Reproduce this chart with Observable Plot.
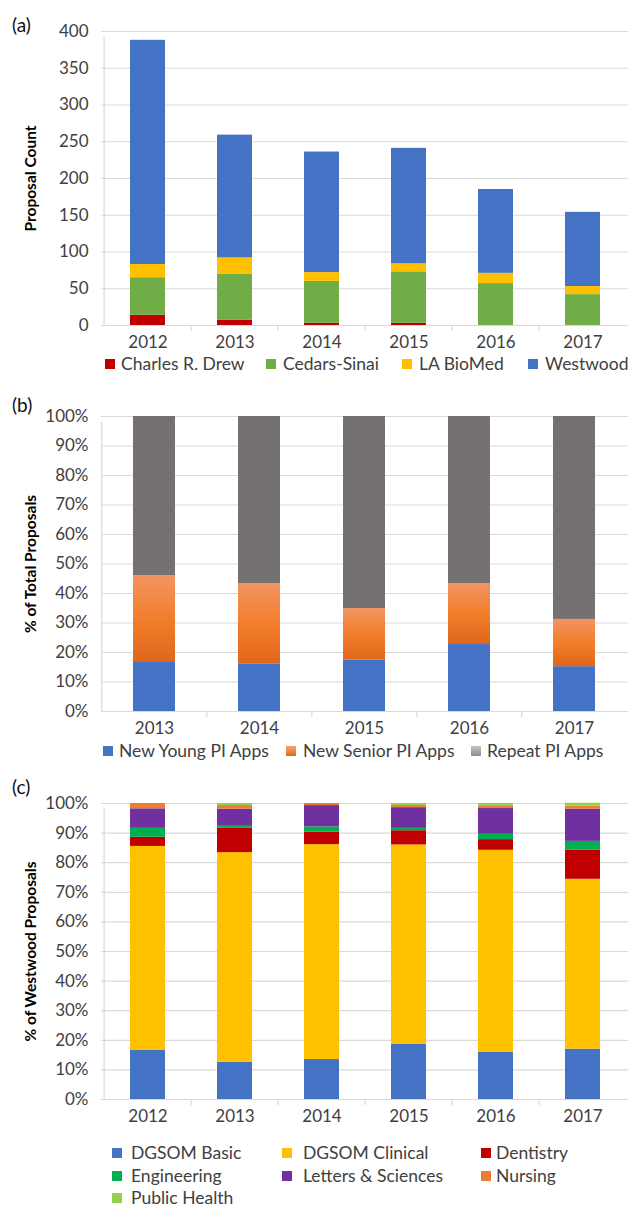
<!DOCTYPE html>
<html><head><meta charset="utf-8">
<script src="https://cdn.jsdelivr.net/npm/d3@7"></script>
<script src="https://cdn.jsdelivr.net/npm/@observablehq/plot@0.6"></script>
<style>
body{margin:0;background:#fff;}
#root{position:relative;width:628px;height:1207px;overflow:hidden;font-family:Lato,sans-serif;color:#404040;background:#fff;}
.panel{position:absolute;left:0;}
.tag{position:absolute;font-size:19px;color:#111;line-height:1;}
.legtxt{position:absolute;font-size:17.5px;white-space:nowrap;line-height:18px;color:#404040;}
.sw{position:absolute;width:10px;height:10px;}
g[aria-label="y-axis label"] text{font-weight:bold;font-size:15.5px;fill:#000;}
</style></head><body><div id="root"></div>
<script>
// ---------- Panel (a): proposal counts ----------
const yearsA = ["2012","2013","2014","2015","2016","2017"];
const seriesA = ["Charles R. Drew","Cedars-Sinai","LA BioMed","Westwood"];
const charlesDrew = [14, 7, 3, 3, 0, 0];
const cedarsSinai = [51, 63, 57, 70, 57, 42];
const laBioMed    = [18, 22, 12, 11, 14, 11];
const westwood    = [305, 167, 164, 157, 114, 101];
const colorsA = ["#C00000","#70AD47","#FFC000","#4472C4"];
const ticksA = [0,50,100,150,200,250,300,350,400];

// ---------- Panel (b): % of total proposals ----------
const yearsB = ["2013","2014","2015","2016","2017"];
const seriesB = ["New Young PI Apps","New Senior PI Apps","Repeat PI Apps"];
const newYoung  = [16.9, 16.0, 17.4, 22.7, 15.2];
const newSenior = [29.1, 27.3, 17.5, 20.6, 16.0];
const repeatPI  = [54.0, 56.7, 65.1, 56.7, 68.8];
const colorsB = ["#4472C4","url(#seniorGrad)","#767171"];
const swatchB = ["#4472C4","linear-gradient(#F5A36E,#E3691D)","linear-gradient(#c4c4c4,#8e8e8e)"];
const ticksPct = [0,10,20,30,40,50,60,70,80,90,100];

// ---------- Panel (c): % of Westwood proposals ----------
const yearsC = ["2012","2013","2014","2015","2016","2017"];
const seriesC = ["DGSOM Basic","DGSOM Clinical","Dentistry","Engineering","Letters & Sciences","Nursing","Public Health"];
const dgsomBasic      = [16.6, 12.6, 13.5, 18.6, 15.9, 17.0];
const dgsomClinical   = [68.9, 70.8, 72.6, 67.4, 68.3, 57.4];
const dentistry       = [3.1, 8.2, 4.2, 4.8, 3.6, 9.8];
const engineering     = [3.0, 0.7, 1.8, 0.8, 1.8, 3.0];
const lettersSciences = [6.6, 5.8, 7.2, 7.0, 8.7, 10.9];
const nursing         = [1.8, 1.2, 0.7, 0.7, 0.7, 1.0];
const publicHealth    = [0, 0.7, 0, 0.7, 1.0, 1.0];
const colorsC = ["#4472C4","#FFC000","#C00000","#00B050","#7030A0","#ED7D31","#92D050"];

const root = document.getElementById("root");
const W = 628, ML = 101;

function stacked({years, names, series, colors, yMax, ticks, fmt, label, top, marginTop, plotH}) {
  const data = years.flatMap((yr, i) => names.map((n, k) => ({year: yr, group: n, value: series[k][i]})));
  const step = (W - ML) / years.length;
  const marginBottom = 32;
  const svg = Plot.plot({
    width: W, height: marginTop + plotH + marginBottom,
    marginTop, marginBottom, marginLeft: ML, marginRight: 0,
    style: {fontFamily: "Lato, sans-serif", fontSize: "17px", color: "#404040", background: "transparent", overflow: "visible"},
    x: {domain: years, paddingInner: 0.6, paddingOuter: 0.3, label: null},
    y: {domain: [0, yMax], label: null},
    color: {type: "ordinal", domain: names, range: colors},
    marks: [
      Plot.ruleY(ticks, {y: d => d, stroke: "#d9d9d9", strokeWidth: 1.2}),
      Plot.ruleX(years.slice(1), {x: d => d, dx: -step / 2, y1: 0, y2: 0, insetBottom: -6, stroke: "#d9d9d9", strokeWidth: 1.2}),
      Plot.ruleX(years.slice(0, 1), {x: d => d, dx: -step / 2, y1: 0, y2: yMax, insetBottom: -6, stroke: "#d9d9d9", strokeWidth: 1.2}),
      Plot.barY(data, {x: "year", y: "value", fill: "group", order: names}),
      Plot.axisY({ticks, tickSize: 0, tickPadding: 13, tickFormat: fmt, label, labelAnchor: "center", labelArrow: "none", labelOffset: 77}),
      Plot.axisX({tickSize: 0, tickPadding: 10, label: null})
    ]
  });
  svg.classList.add("panel");
  svg.style.top = top + "px";
  root.appendChild(svg);
  return svg;
}

function tag(text, left, top) {
  const d = document.createElement("div");
  d.className = "tag"; d.textContent = text;
  d.style.left = left + "px"; d.style.top = top + "px";
  root.appendChild(d);
}

function legend(names, fills, swLefts, txtLefts, rows) {
  names.forEach((n, i) => {
    const cy = rows[i];
    const s = document.createElement("div");
    s.className = "sw"; s.style.background = fills[i];
    s.style.left = swLefts[i] + "px"; s.style.top = (cy - 5) + "px";
    root.appendChild(s);
    const t = document.createElement("div");
    t.className = "legtxt"; t.textContent = n;
    t.style.left = txtLefts[i] + "px"; t.style.top = (cy - 9) + "px";
    root.appendChild(t);
  });
}

// Panel (a)
stacked({years: yearsA, names: seriesA, series: [charlesDrew, cedarsSinai, laBioMed, westwood],
  colors: colorsA, yMax: 400, ticks: ticksA, fmt: d => d, label: "Proposal Count",
  top: 0, marginTop: 31, plotH: 294});
tag("(a)", 12, 15);
legend(seriesA, colorsA, [105, 266, 402, 528], [121, 283, 419, 545], [364, 364, 364, 364]);

// Panel (b)
const svgB = stacked({years: yearsB, names: seriesB, series: [newYoung, newSenior, repeatPI],
  colors: colorsB, yMax: 100, ticks: ticksPct, fmt: d => d + "%", label: "% of Total Proposals",
  top: 390, marginTop: 26, plotH: 295});
{
  const defs = d3.select(svgB).insert("defs", ":first-child");
  const g = defs.append("linearGradient").attr("id", "seniorGrad")
    .attr("x1", 0).attr("y1", 0).attr("x2", 0).attr("y2", 1);
  g.append("stop").attr("offset", "0%").attr("stop-color", "#F29461");
  g.append("stop").attr("offset", "50%").attr("stop-color", "#F27E2C");
  g.append("stop").attr("offset", "100%").attr("stop-color", "#E0661A");
}
tag("(b)", 12, 395);
legend(seriesB, swatchB, [103, 286, 471], [119, 303, 487], [751, 751, 751]);

// Panel (c)
stacked({years: yearsC, names: seriesC,
  series: [dgsomBasic, dgsomClinical, dentistry, engineering, lettersSciences, nursing, publicHealth],
  colors: colorsC, yMax: 100, ticks: ticksPct, fmt: d => d + "%", label: "% of Westwood Proposals",
  top: 770, marginTop: 33, plotH: 296});
tag("(c)", 12, 777);
legend(seriesC, colorsC, [112, 282, 481, 112, 282, 481, 112], [131, 303, 496, 131, 303, 496, 131],
  [1153, 1153, 1153, 1176, 1176, 1176, 1198]);
</script>
</body></html>
